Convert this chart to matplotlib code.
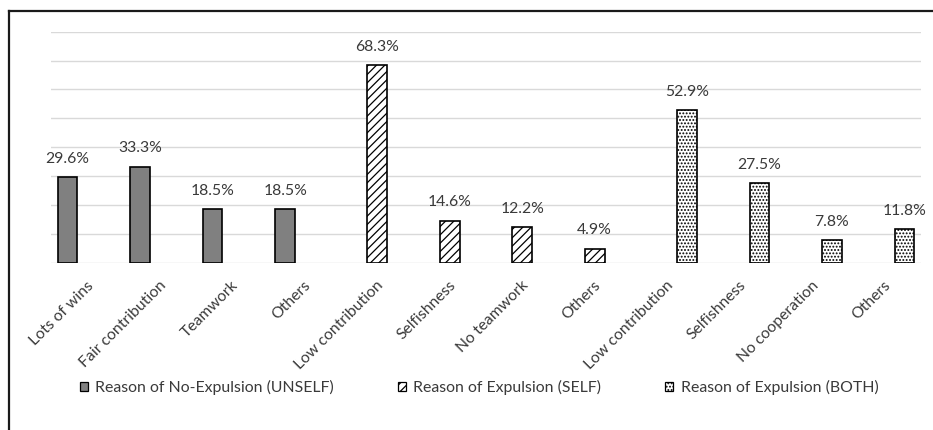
import numpy as np
import matplotlib
matplotlib.use("Agg")
import matplotlib.pyplot as plt
from matplotlib.lines import Line2D
from matplotlib.patches import Patch
from matplotlib.transforms import ScaledTranslation

plt.rcParams['font.family'] = ['Lato', 'DejaVu Sans']
plt.rcParams['hatch.linewidth'] = 0.9

# Reasons given for (not) expelling a teammate, percent of responses
categories = ["Lots of wins", "Fair contribution", "Teamwork", "Others",
              "Low contribution", "Selfishness", "No teamwork", "Others",
              "Low contribution", "Selfishness", "No cooperation", "Others"]
series_names = ["Reason of No-Expulsion (UNSELF)",
                "Reason of Expulsion (SELF)",
                "Reason of Expulsion (BOTH)"]
unself_vals = [29.6, 33.3, 18.5, 18.5]
self_vals = [68.3, 14.6, 12.2, 4.9]
both_vals = [52.9, 27.5, 7.8, 11.8]

text_color = "#3a3a3a"
grid_color = "#d9d9d9"

fig = plt.figure(figsize=(9.33, 4.30), dpi=100)
ax = fig.add_axes([51 / 933, 1 - 262.7 / 430, 870 / 933, (262.7 - 31.7) / 430])

w = 0.27
x_all = np.arange(len(categories))
groups = [
    (x_all[0:4] - w, unself_vals, dict(facecolor="#808080", hatch=None)),
    (x_all[4:8], self_vals, dict(facecolor="white", hatch="////")),
    (x_all[8:12] + w, both_vals, dict(facecolor="white", hatch=".....")),
]

handles = []
for (xs, vals, style), name in zip(groups, series_names):
    bars = ax.bar(xs, vals, width=w, edgecolor="black", linewidth=1.2,
                  zorder=3, **style)
    for b, v in zip(bars, vals):
        ax.annotate(f"{v:.1f}%", (b.get_x() + b.get_width() / 2, v),
                    xytext=(0, 13), textcoords="offset points",
                    ha="center", va="center", fontsize=11.3, color=text_color)
    handles.append(Patch(facecolor=style["facecolor"], hatch=style["hatch"],
                         edgecolor="black", linewidth=0.9, label=name))

ax.set_xlim(-0.5, len(categories) - 0.5)
ax.set_ylim(0, 80)
ax.set_yticks(np.arange(0, 81, 10))
ax.yaxis.grid(True, color=grid_color, linewidth=1.0, zorder=0)
ax.tick_params(axis="y", left=False, labelleft=False)
ax.set_xticks(x_all)
ax.set_xticklabels(categories, rotation=45, ha="right", va="center",
                   rotation_mode="anchor", fontsize=11.3, color=text_color)
ax.tick_params(axis="x", length=0, pad=15)
shift = ScaledTranslation(4 / 100, 0, fig.dpi_scale_trans)
for lab in ax.get_xticklabels():
    lab.set_transform(lab.get_transform() + shift)
for s in ax.spines.values():
    s.set_visible(False)

fig.legend(handles=handles, loc="center", ncol=3,
           bbox_to_anchor=(479 / 933, 1 - 387.5 / 430), frameon=False,
           fontsize=11.4, handlelength=0.55, handleheight=0.55,
           handletextpad=0.45, columnspacing=4.0, labelcolor=text_color)

# frame edges around the chart area
fig.add_artist(Line2D([9 / 933, 1], [1 - 11 / 430] * 2,
                      transform=fig.transFigure, color="#1a1a1a", linewidth=1.6))
fig.add_artist(Line2D([9 / 933] * 2, [0, 1 - 11 / 430],
                      transform=fig.transFigure, color="#1a1a1a", linewidth=1.6))

fig.savefig("out.png", dpi=100)
